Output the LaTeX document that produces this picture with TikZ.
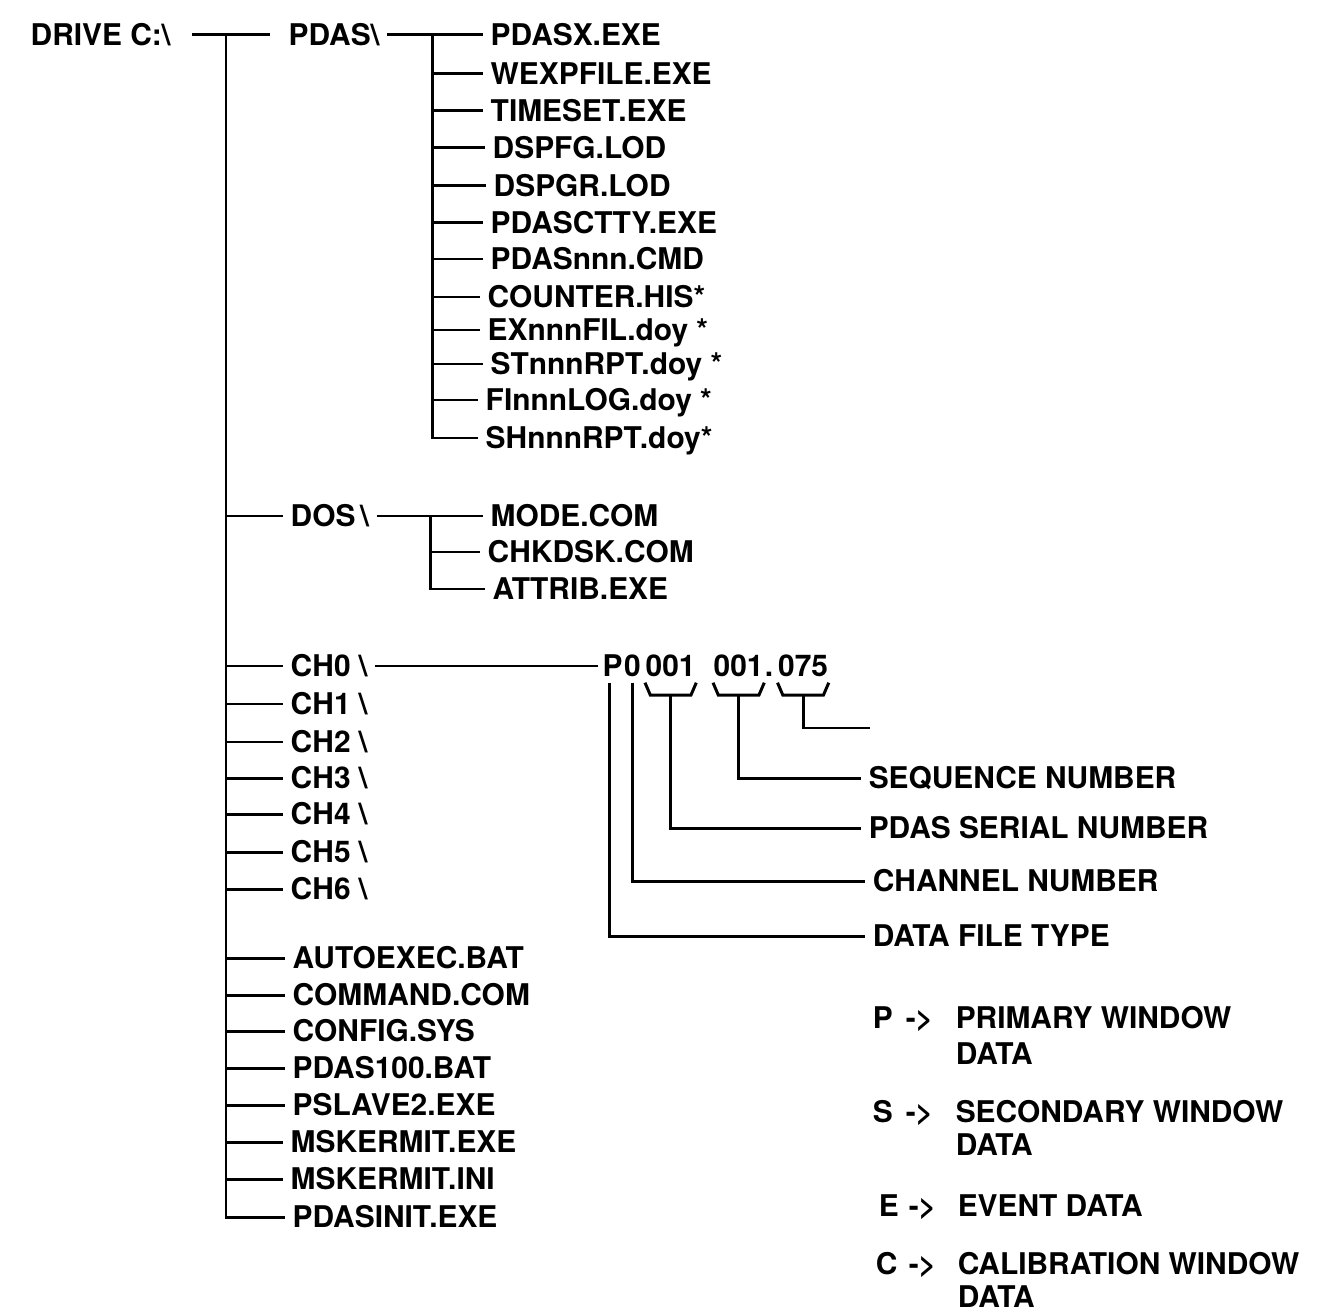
\documentclass[tikz,border=0pt]{standalone}
\usepackage{fontspec}
\setmainfont{TeX Gyre Heros}
\usepackage{tikz}
\usetikzlibrary{positioning}

\tikzset{
	entry/.style={anchor=west, inner xsep=2pt, inner ysep=0pt, text height=6.1pt, text depth=0pt, font=\fontsize{8.5}{10}\selectfont\bfseries},
	part/.style={entry, inner xsep=0pt},
	tree/.style={line width=0.85pt},
}

\begin{document}
\begin{tikzpicture}[x=0.01cm, y=-0.01cm]

\useasboundingbox (0,0) rectangle (1322,1313);

% root and first level
\node[entry] (drive) at (23,35) {DRIVE C:\textbackslash};
\node[entry] (pdas) at (281,35) {PDAS\textbackslash};
\node[entry] (dos) at (283,516) {DOS\,\textbackslash};
\node[entry] (ch0) at (283,666) {CH0 \textbackslash};
\node[entry] (ch1) at (283,704) {CH1 \textbackslash};
\node[entry] (ch2) at (283,742) {CH2 \textbackslash};
\node[entry] (ch3) at (283,778) {CH3 \textbackslash};
\node[entry] (ch4) at (283,814) {CH4 \textbackslash};
\node[entry] (ch5) at (283,852) {CH5 \textbackslash};
\node[entry] (ch6) at (283,889) {CH6 \textbackslash};
\node[entry] (autoexec) at (285,958) {AUTOEXEC.BAT};
\node[entry] (command) at (285,995) {COMMAND.COM};
\node[entry] (config) at (285,1031) {CONFIG.SYS};
\node[entry] (pdasbat) at (285,1068) {PDAS100.BAT};
\node[entry] (pslave) at (285,1105) {PSLAVE2.EXE};
\node[entry] (mskexe) at (283,1142) {MSKERMIT.EXE};
\node[entry] (mskini) at (283,1179) {MSKERMIT.INI};
\node[entry] (pdasinit) at (285,1217) {PDASINIT.EXE};

% PDAS directory
\node[entry] (pdasx) at (483,35) {PDASX.EXE};
\node[entry] (wexp) at (483,74) {WEXPFILE.EXE};
\node[entry] (timeset) at (483,111) {TIMESET.EXE};
\node[entry] (dspfg) at (485,148) {DSPFG.LOD};
\node[entry] (dspgr) at (486,186) {DSPGR.LOD};
\node[entry] (ctty) at (483,223) {PDASCTTY.EXE};
\node[entry] (cmd) at (483,259) {PDASnnn.CMD};
\node[entry] (counter) at (480,297) {COUNTER.HIS*};
\node[entry] (exfil) at (480,330) {EXnnnFIL.doy *};
\node[entry] (strpt) at (483,364) {STnnnRPT.doy *};
\node[entry] (filog) at (478,400) {FInnnLOG.doy *};
\node[entry] (shrpt) at (478,438) {SHnnnRPT.doy*};

% DOS directory
\node[entry] (mode) at (483,516) {MODE.COM};
\node[entry] (chkdsk) at (480,552) {CHKDSK.COM};
\node[entry] (attrib) at (485,589) {ATTRIB.EXE};

% data file name
\node[part] (fp) at (602,666) {P};
\node[part, right=0pt of fp] (fc) {0};
\node[part] (fs) at (645,666) {001};
\node[part] (fq) at (713,666) {001};
\node[part, right=0pt of fq] (fd) {.};
\node[part, right=1pt of fd] (fe) {075};

\node[entry] (lseq) at (861,778) {SEQUENCE NUMBER};
\node[entry] (lserial) at (861,828) {PDAS SERIAL NUMBER};
\node[entry] (lchan) at (865,881) {CHANNEL NUMBER};
\node[entry] (ltype) at (865,936) {DATA FILE TYPE};
\coordinate (open) at (870,728);

% file types
\node[entry] (keyP) at (865,1018) {P};
\node[entry] (arrP) at (898,1018) {->};
\node[entry] (txtP) at (948,1018) {PRIMARY WINDOW};
\node[entry] (datP) at (948,1054) {DATA};
\node[entry] (keyS) at (865,1112) {S};
\node[entry] (arrS) at (898,1112) {->};
\node[entry] (txtS) at (948,1112) {SECONDARY WINDOW};
\node[entry] (datS) at (948,1145) {DATA};
\node[entry] (keyE) at (871,1206) {E};
\node[entry] (arrE) at (901,1206) {->};
\node[entry] (txtE) at (950,1206) {EVENT DATA};
\node[entry] (keyC) at (868,1264) {C};
\node[entry] (arrC) at (901,1264) {->};
\node[entry] (txtC) at (950,1264) {CALIBRATION WINDOW};
\node[entry] (datC) at (950,1297) {DATA};

% tree lines
\coordinate (root) at (226,35);
\draw[tree, shorten <=4pt, shorten >=3pt] (drive) -- (pdas);
\draw[tree] (root) |- (pdasinit.west);
\foreach \n in {dos,ch0,ch1,ch2,ch3,ch4,ch5,ch6,autoexec,command,config,pdasbat,pslave,mskexe,mskini}
	\draw[tree] (root |- \n.west) -- (\n.west);

\coordinate (pdasfork) at (432,35);
\draw[tree] (pdas) -- (pdasx);
\draw[tree] (pdasfork) |- (shrpt.west);
\foreach \n in {wexp,timeset,dspfg,dspgr,ctty,cmd,counter,exfil,strpt,filog}
	\draw[tree] (pdasfork |- \n.west) -- (\n.west);

\coordinate (dosfork) at (430,516);
\draw[tree] (dos) -- (mode);
\draw[tree] (dosfork) |- (attrib.west);
\draw[tree] (dosfork |- chkdsk.west) -- (chkdsk.west);

\draw[tree, shorten >=1pt] (ch0) -- (fp);

% name fields
\foreach \b in {fs,fq,fe}
	\draw[tree] ([yshift=-1.5pt]\b.south west) -- ([xshift=1.5pt,yshift=-5pt]\b.south west) -- ([xshift=-1.5pt,yshift=-5pt]\b.south east) -- ([yshift=-1.5pt]\b.south east);

\draw[tree] ([xshift=-1pt,yshift=-1.5pt]fp.south) |- (ltype.west);
\draw[tree] ([yshift=-1.5pt]fc.south) |- (lchan.west);
\draw[tree] ([yshift=-5pt]fs.south) |- (lserial.west);
\draw[tree] ([yshift=-5pt]fq.south) |- (lseq.west);
\draw[tree] ([yshift=-5pt]fe.south) |- (open);

\end{tikzpicture}
\end{document}
